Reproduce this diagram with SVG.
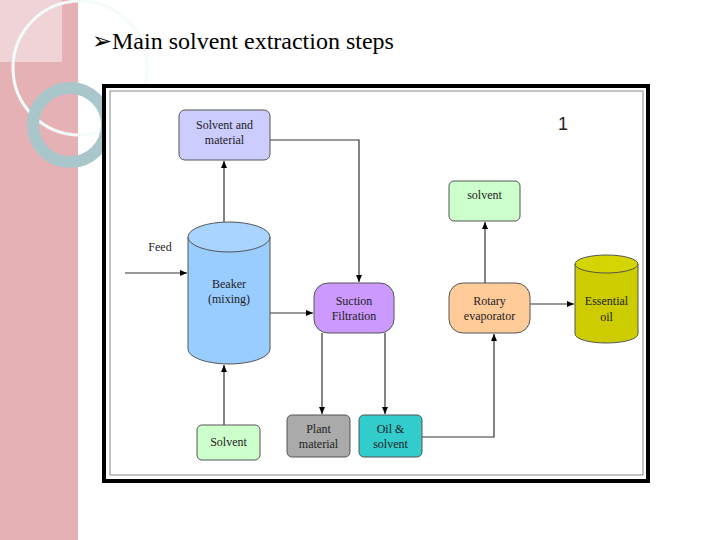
<svg xmlns="http://www.w3.org/2000/svg" width="720" height="540" viewBox="0 0 720 540">
<defs>
<marker id="ah" markerWidth="8" markerHeight="8" refX="7" refY="4" orient="auto" markerUnits="userSpaceOnUse"><path d="M0,1 L7,4 L0,7 Z" fill="#000"/></marker>
<style>
.t{font-family:"Liberation Serif",serif;font-size:12px;fill:#222;text-anchor:middle}
.b{stroke:#555;stroke-width:1}
.c{stroke:#333;stroke-width:1.2;fill:none;marker-end:url(#ah)}
</style>
</defs>
<rect width="720" height="540" fill="#fff"/>
<rect width="78" height="540" fill="#e6b1b5"/>
<rect x="0" y="0" width="62" height="62" fill="#efd3d6"/>
<circle cx="80" cy="68" r="67" fill="none" stroke="#f4fbfb" stroke-width="3"/>
<circle cx="70" cy="125" r="37" fill="none" stroke="#a9c7cb" stroke-width="12"/>
<text x="92" y="49" font-family="Liberation Serif,serif" font-size="24" fill="#000">➢Main solvent extraction steps</text>
<rect x="104" y="86" width="544" height="395" fill="#fff" stroke="#000" stroke-width="4"/>
<rect x="110" y="91" width="533" height="384" fill="#fff" stroke="#888" stroke-width="1"/>
<text x="563" y="130" font-family="Liberation Sans,sans-serif" font-size="18" fill="#222" text-anchor="middle">1</text>
<g id="connectors">
<path class="c" d="M224,222 V161"/>
<path class="c" d="M125,273 H187"/>
<path class="c" d="M224,425 V365"/>
<path class="c" d="M270,313 H313"/>
<path class="c" d="M270,140 H359 V282"/>
<path class="c" d="M322,333 V414"/>
<path class="c" d="M385,333 V414"/>
<path class="c" d="M422,437 H494 V334"/>
<path class="c" d="M485,283 V222"/>
<path class="c" d="M530,304 H574"/>
</g>
<g id="solvent-material"><rect class="b" x="179" y="110" width="91" height="50" rx="6" fill="#ccccff"/><text class="t" x="224.500" y="129">Solvent and</text><text class="t" x="224.500" y="144">material</text></g>
<g id="feed"><text class="t" x="160" y="251">Feed</text></g>
<g id="beaker"><path class="b" d="M188,237 V349 A41,15 0 0 0 270,349 V237" fill="#99ccff"/><ellipse class="b" cx="229" cy="237" rx="41" ry="15" fill="#a8d4ff"/><text class="t" x="229" y="288">Beaker</text><text class="t" x="229" y="303">(mixing)</text></g>
<g id="solvent-in"><rect class="b" x="197" y="425" width="63" height="35" rx="5" fill="#ccffcc"/><text class="t" x="228.500" y="446">Solvent</text></g>
<g id="suction"><rect class="b" x="314" y="283" width="80" height="50" rx="14" fill="#cc99ff"/><text class="t" x="354" y="305">Suction</text><text class="t" x="354" y="320">Filtration</text></g>
<g id="plant"><rect class="b" x="287" y="415" width="63" height="42" rx="5" fill="#aaaaaa"/><text class="t" x="318.500" y="433">Plant</text><text class="t" x="318.500" y="448">material</text></g>
<g id="oil-solvent"><rect class="b" x="359" y="415" width="63" height="42" rx="5" fill="#33cccc"/><text class="t" x="390.500" y="433">Oil &amp;</text><text class="t" x="390.500" y="448">solvent</text></g>
<g id="rotary"><rect class="b" x="449" y="283" width="81" height="50" rx="14" fill="#ffcc99"/><text class="t" x="489.500" y="305">Rotary</text><text class="t" x="489.500" y="320">evaporator</text></g>
<g id="solvent-out"><rect class="b" x="449" y="181" width="71" height="40" rx="5" fill="#ccffcc"/><text class="t" x="484.500" y="199">solvent</text></g>
<g id="essential-oil"><path class="b" d="M575,264 V334 A31.500,9 0 0 0 638,334 V264" fill="#cccc00"/><ellipse class="b" cx="606.500" cy="264" rx="31.500" ry="9" fill="#d4d400"/><text class="t" x="606.500" y="305">Essential</text><text class="t" x="606.500" y="321">oil</text></g>
</svg>
